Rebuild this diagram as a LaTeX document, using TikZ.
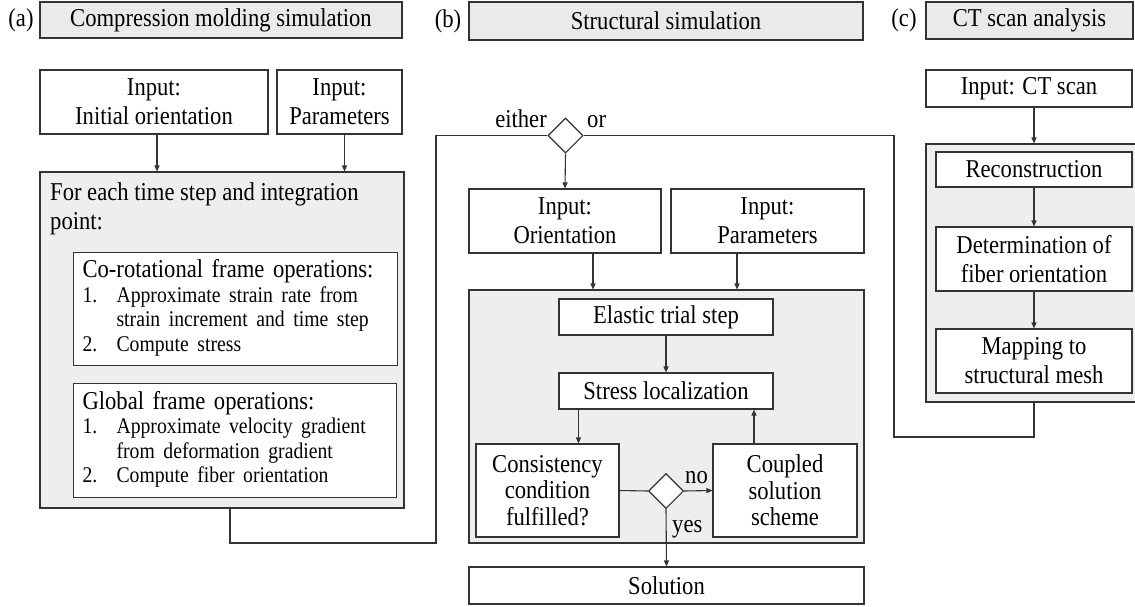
\documentclass[tikz,border=0pt]{standalone}
\usepackage{fontspec}
\setmainfont{Liberation Serif}[FakeStretch=0.88]
\usetikzlibrary{arrows.meta,shapes.geometric,calc}
\definecolor{linec}{HTML}{333333}
\definecolor{panelfill}{HTML}{EEEEEE}
\definecolor{headfill}{HTML}{EAEAEA}
\newcommand{\bigf}{\fontsize{25.7}{29}\selectfont}
\newcommand{\listf}{\fontsize{22.4}{24.5}\selectfont}
\tikzset{
  every node/.style={font=\bigf, text=black},
  box/.style={draw=linec, line width=1.1pt, fill=white, align=center, inner sep=2pt},
  headbox/.style={draw=linec, line width=1.1pt, fill=headfill, inner sep=0pt},
  panel/.style={draw=linec, line width=1.1pt, fill=panelfill, inner sep=0pt},
  dec/.style={diamond, draw=linec, line width=1.1pt, fill=white, inner sep=0pt, minimum width=35pt, minimum height=35pt},
  conn/.style={draw=linec, line width=1.1pt},
  arr/.style={conn, -{Triangle[length=6pt,width=5pt]}},
  lbl/.style={inner sep=0pt},
}
\begin{document}
\begin{tikzpicture}[x=1pt,y=-1pt]
\useasboundingbox (0,0) rectangle (1135,606);
% ---------- headers ----------
\node[lbl] (la) at (21,20) {(a)};
\node[headbox, minimum width=362pt, minimum height=36pt] (hA) at (221,20) {Compression molding simulation};
\node[lbl] (lb) at (448,21) {(b)};
\node[headbox, minimum width=394pt, minimum height=38pt] (hB) at (666,21) {Structural simulation};
\node[lbl] (lc) at (904,20) {(c)};
\node[headbox, minimum width=207pt, minimum height=37pt] (hC) at (1029.5,20.5) {CT scan analysis};

% ---------- panel (a) ----------
\node[box, minimum width=228pt, minimum height=64pt] (inA1) at (154,102) {Input:\\Initial orientation};
\node[box, minimum width=125pt, minimum height=64pt] (inA2) at (339.5,102) {Input:\\Parameters};
\node[panel, minimum width=364pt, minimum height=336pt] (grayA) at (222,340) {};
\node[lbl, anchor=north west, align=left] (forT) at (50,182) {For each time step and integration\\point:};
\node[box, align=left, text width=306pt, inner xsep=9pt, minimum height=113pt, anchor=north west] (co) at (73,252) {%
  \listf\begin{tabular}{@{}p{34pt}@{}l@{}}
  \multicolumn{2}{@{}l@{}}{\bigf Co-rotational frame operations:}\\
  1. & Approximate strain rate from\\
     & strain increment and time step\\
  2. & Compute stress
  \end{tabular}};
\node[box, align=left, text width=305pt, inner xsep=9pt, minimum height=114pt, anchor=north west] (gl) at (73,383) {%
  \listf\begin{tabular}{@{}p{34pt}@{}l@{}}
  \multicolumn{2}{@{}l@{}}{\bigf Global frame operations:}\\
  1. & Approximate velocity gradient\\
     & from deformation gradient\\
  2. & Compute fiber orientation
  \end{tabular}};
\draw[arr] ([xshift=3pt]inA1.south) -- ([xshift=3pt]inA1.south |- grayA.north);
\draw[arr] ([xshift=5pt]inA2.south) -- ([xshift=5pt]inA2.south |- grayA.north);

% ---------- panel (b) ----------
\node[dec] (d1) at (565.5,135.5) {};
\node[lbl, anchor=base east] (either) at (547,127) {either};
\node[lbl, anchor=base west] (or) at (587,127) {or};
\node[box, minimum width=192pt, minimum height=64pt] (inB1) at (565,221) {Input:\\Orientation};
\node[box, minimum width=193pt, minimum height=64pt] (inB2) at (767.5,221) {Input:\\Parameters};
\node[panel, minimum width=395pt, minimum height=253pt] (grayB) at (666.5,416.5) {};
\node[box, minimum width=214pt, minimum height=36pt] (et) at (666,317) {Elastic trial step};
\node[box, minimum width=214pt, minimum height=36pt] (sl) at (666,391) {Stress localization};
\node[box, minimum width=143pt, minimum height=93pt, font=\fontsize{25.7}{26.5}\selectfont] (cons) at (547.5,490.5) {Consistency\\condition\\fulfilled?};
\node[box, minimum width=144pt, minimum height=93pt, font=\fontsize{25.7}{26.5}\selectfont] (coup) at (785,490.5) {Coupled\\solution\\scheme};
\node[dec] (d2) at (666,491) {};
\node[lbl, anchor=west] (no) at (685,477.5) {no};
\node[lbl, anchor=base west] (yes) at (672,532) {yes};
\node[box, minimum width=395pt, minimum height=37pt] (sol) at (666.5,585.5) {Solution};

\draw[arr] (d1.south) -- (inB1.north);
\draw[arr] ([xshift=28pt]inB1.south) -- ([xshift=28pt]inB1.south |- grayB.north);
\draw[arr] ([xshift=-30.5pt]inB2.south) -- ([xshift=-30.5pt]inB2.south |- grayB.north);
\draw[arr] (et.south) -- (sl.north);
\draw[arr] ([xshift=20pt]sl.south west) -- ([xshift=20pt]sl.south west |- cons.north);
\draw[arr] ([xshift=-31pt]coup.north) -- ([xshift=-31pt]coup.north |- sl.south);
\draw[conn] (cons.east) -- (d2.west);
\draw[arr] (d2.east) -- (coup.west);
\draw[arr] (d2.south) -- (sol.north);

% ---------- panel (c) ----------
\node[box, minimum width=206pt, minimum height=37pt] (inC) at (1029,88.5) {Input: CT scan};
\node[panel, minimum width=210pt, minimum height=258pt] (grayC) at (1031,273) {};
\node[box, minimum width=196pt, minimum height=35pt] (rec) at (1034,169.5) {Reconstruction};
\node[box, minimum width=196pt, minimum height=64pt] (det) at (1034,259) {Determination of\\fiber orientation};
\node[box, minimum width=196pt, minimum height=64pt] (map) at (1034,361) {Mapping to\\structural mesh};
\draw[arr] ([xshift=5pt]inC.south) -- ([xshift=5pt]inC.south |- grayC.north);
\draw[arr] (rec.south) -- (det.north);
\draw[arr] (det.south) -- (map.north);

% ---------- joining connectors ----------
\coordinate (jA) at (436,543);
\coordinate (jC) at (894,437);
\draw[conn] ([xshift=8pt]grayA.south) |- (jA) |- (d1.west);
\draw[conn] (d1.east) -| (jC) -| ([xshift=3pt]grayC.south);
\end{tikzpicture}
\end{document}
